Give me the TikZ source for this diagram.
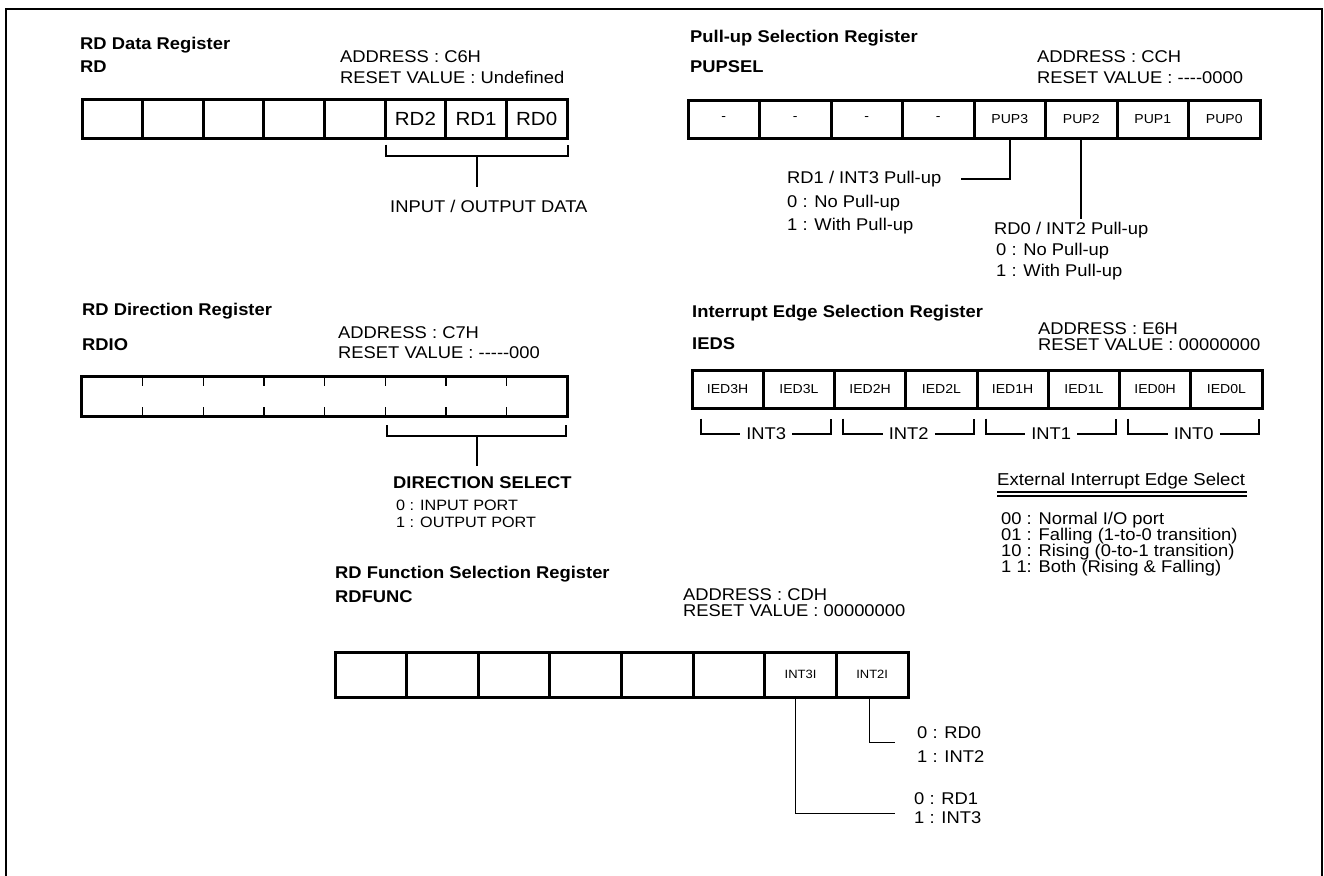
\documentclass[tikz,border=0pt]{standalone}
\usepackage{fontspec}
\setmainfont{Liberation Sans}[FakeStretch=1.08]
\usepackage{tikz}
\usetikzlibrary{
  calc,
  positioning
}
\newcommand{\fsz}[1]{\fontsize{#1}{#1}\selectfont}
\newcommand{\hyp}{\mbox{-}}
% one row of eight register cells: name, x0, y0, cell width, cell height, options, labels
\newcommand{\drawRegister}[7]{%
  \foreach \lbl [count=\i] in {#7} {
    \node[#6, minimum width=#4pt, minimum height=#5pt] (#1-\i)
      at ({#2+(\i-0.5)*#4}, {#3+#5/2}) {\lbl};
  }
}

\begin{document}
\begin{tikzpicture}[x=1pt, y=-1pt,
  regcell/.style={draw, line width=3pt, inner sep=0pt},
  regopen/.style={inner sep=0pt},
  hdr/.style={font=\fsz{17}\bfseries, anchor=base west, inner sep=0pt},
  txt/.style={font=\fsz{17}, anchor=base west, inner sep=0pt},
  lead/.style={line width=2pt},
  thinlead/.style={line width=1pt}]

  \useasboundingbox (0,0) rectangle (1324,875);
  % frame, open at the bottom
  \draw[line width=2.5pt] (6,880) -- (6,9) -- (1322,9) -- (1322,880);

  % -- RD data register --
  \node[hdr] (rdtitle) at (80,50) {RD Data Register};
  \node[hdr] (rdname) at (80,72) {RD};
  \node[txt] (rdaddr) at (340,63) {ADDRESS : C6H};
  \node[txt] (rdreset) at (340,83) {RESET VALUE : Undefined};
  \drawRegister{rd}{82}{99}{60.625}{39}{regcell, font=\fsz{19}}{{},{},{},{},{},RD2,RD1,RD0}
  \draw[lead] ($(rd-6.south west)+(2,5)$) -- ++(0,11) coordinate (rdbl)
    -| ($(rd-8.south east)+(-1,5)$);
  \coordinate (rdbrk) at ($(rdbl)!0.5!(rdbl -| rd-8.south east)$);
  \node[txt] (rddata) at (390,212) {INPUT / OUTPUT DATA};
  \draw[lead] (rdbrk) -- ($(rdbrk)+(0,31)$);

  % -- pull-up selection register --
  \node[hdr] (puptitle) at (690,43) {Pull-up Selection Register};
  \node[hdr] (pupname) at (690,72) {PUPSEL};
  \node[txt] (pupaddr) at (1037,63) {ADDRESS : CCH};
  \node[txt] (pupreset) at (1037,83) {RESET VALUE : \hyp\hyp\hyp\hyp0000};
  \drawRegister{pup}{688}{100}{71.5}{38}{regcell, font=\fsz{13}}{-,-,-,-,PUP3,PUP2,PUP1,PUP0}
  \node[txt] (pup3head) at (787,183) {RD1 / INT3 Pull-up};
  \node[txt] (pup3zero) at (787,207) {0 : No Pull-up};
  \node[txt] (pup3one) at (787,230) {1 : With Pull-up};
  \draw[lead] (pup-5.south) |- ($(pup3head.east)+(20,0)$);
  \node[txt] (pup2head) at (994,234) {RD0 / INT2 Pull-up};
  \node[txt] (pup2zero) at (996,255) {0 : No Pull-up};
  \node[txt] (pup2one) at (996,276) {1 : With Pull-up};
  \draw[lead] (pup-6.south) -- ($(pup-6.south |- pup2head.north)+(0,-2)$);

  % -- RD direction register --
  \node[hdr] (diotitle) at (82,315) {RD Direction Register};
  \node[hdr] (dioname) at (82,350) {RDIO};
  \node[txt] (dioaddr) at (338,338) {ADDRESS : C7H};
  \node[txt] (dioreset) at (338,358) {RESET VALUE : \hyp\hyp\hyp\hyp\hyp000};
  \drawRegister{dio}{82}{377}{60.625}{39}{regopen}{{},{},{},{},{},{},{},{}}
  \draw[line width=3pt] (dio-1.north west) rectangle (dio-8.south east);
  \foreach \i in {1,...,7} {
    \draw[line width=1.3pt] (dio-\i.north east) -- ++(0,9);
    \draw[line width=1.3pt] (dio-\i.south east) -- ++(0,-9);
  }
  \draw[lead] ($(dio-6.south west)+(2,9)$) -- ++(0,11) coordinate (diobl)
    -| ($(dio-8.south east)+(-1,9)$);
  \coordinate (diobrk) at ($(diobl)!0.5!(diobl -| dio-8.south east)$);
  \node[hdr] (diosel) at (393,488) {DIRECTION SELECT};
  \node[txt, font=\fsz{15}] (diozero) at (396,510) {0 : INPUT PORT};
  \node[txt, font=\fsz{15}] (dioone) at (396,527) {1 : OUTPUT PORT};
  \draw[lead] (diobrk) -- ($(diobrk)+(0,30)$);

  % -- interrupt edge selection register --
  \node[hdr] (iedtitle) at (692,317) {Interrupt Edge Selection Register};
  \node[hdr] (iedname) at (692,349) {IEDS};
  \node[txt] (iedaddr) at (1038,334) {ADDRESS : E6H};
  \node[txt] (iedreset) at (1038,350) {RESET VALUE : 00000000};
  \drawRegister{ied}{692}{370}{71.25}{38}{regcell, font=\fsz{13}}{IED3H,IED3L,IED2H,IED2L,IED1H,IED1L,IED0H,IED0L}
  \foreach \g/\lbl [count=\k] in {1/INT3,3/INT2,5/INT1,7/INT0} {
    \pgfmathtruncatemacro{\hh}{\g+1}
    \node[font=\fsz{17}, inner xsep=6pt, inner ysep=0pt] (grp\k)
      at ($(ied-\g.south west)!0.5!(ied-\hh.south east)+(3,24)$) {\lbl};
    \draw[lead] ($(ied-\g.south west)+(10,9)$) |- (grp\k.west);
    \draw[lead] (grp\k.east) -| ($(ied-\hh.south east)+(-5,9)$);
  }
  \node[txt, font=\fsz{17.2}] (edgehead) at (997,485) {External Interrupt Edge Select};
  \draw[line width=1.2pt] ($(edgehead.base west)+(0,7)$) -- ($(edgehead.base east)+(2,7)$);
  \draw[line width=1.2pt] ($(edgehead.base west)+(0,11)$) -- ($(edgehead.base east)+(2,11)$);
  \foreach \ln [count=\i] in {00 : Normal I/O port, 01 : Falling (1-to-0 transition),
      10 : Rising (0-to-1 transition), 1 1: Both (Rising \& Falling)}
    \node[txt, font=\fsz{17}] (edge\i) at (1001,{508+16*\i}) {\ln};

  % -- RD function selection register --
  \node[hdr] (fntitle) at (335,578) {RD Function Selection Register};
  \node[hdr] (fnname) at (335,602) {RDFUNC};
  \node[txt] (fnaddr) at (683,600) {ADDRESS : CDH};
  \node[txt] (fnreset) at (683,616) {RESET VALUE : 00000000};
  \drawRegister{fn}{335}{652}{71.625}{45}{regcell, font=\fsz{12}}{{},{},{},{},{},{},INT3I,INT2I}
  \node[txt] (fn2zero) at (917,738) {0 : RD0};
  \node[txt] (fn2one) at (917,762) {1 : INT2};
  \node[txt] (fn3zero) at (914,804) {0 : RD1};
  \node[txt] (fn3one) at (914,823) {1 : INT3};
  \draw[thinlead] ($(fn-8.south)+(-3,0)$) |- ($(fn2zero.base west)+(-22,4)$);
  \draw[thinlead] ($(fn-7.south)+(-5,0)$) |- ($(fn3one.base west)+(-19,-10)$);

\end{tikzpicture}
\end{document}
